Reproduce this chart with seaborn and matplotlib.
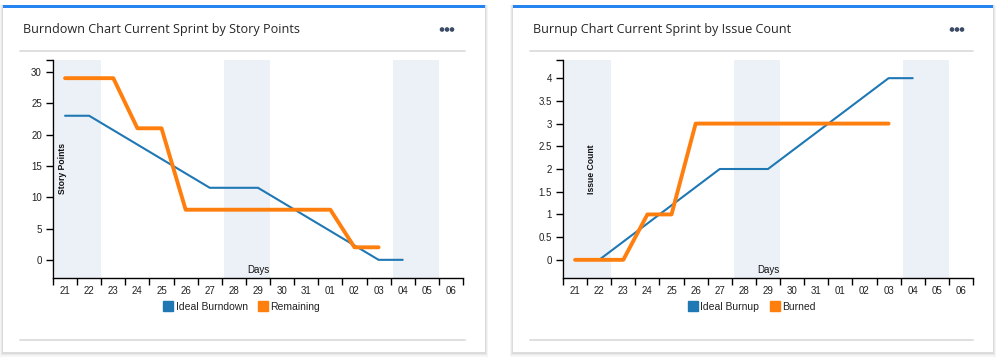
import matplotlib
matplotlib.use("Agg")
import matplotlib.pyplot as plt
import seaborn as sns
import pandas as pd
from matplotlib.patches import Rectangle
from matplotlib.lines import Line2D

sns.set_theme(style="white")
plt.rcParams['font.family'] = ['Liberation Sans', 'DejaVu Sans']

days = ["21", "22", "23", "24", "25", "26", "27", "28", "29", "30", "31",
        "01", "02", "03", "04", "05", "06"]
weekends = [("21", "22"), ("28", "29"), ("04", "05")]

# Burndown (story points)
ideal_burndown = [23, 23, 20.7, 18.4, 16.1, 13.8, 11.5, 11.5, 11.5, 9.2, 6.9,
                  4.6, 2.3, 0, 0]
remaining = [29, 29, 29, 21, 21, 8, 8, 8, 8, 8, 8, 8, 2, 2]

# Burnup (issue count)
ideal_burnup = [0, 0, 0.4, 0.8, 1.2, 1.6, 2.0, 2.0, 2.0, 2.4, 2.8, 3.2, 3.6,
                4.0, 4.0]
burned = [0, 0, 0, 1, 1, 3, 3, 3, 3, 3, 3, 3, 3, 3]

BLUE = "#1f77b4"
ORANGE = "#ff7f0e"
SHADE = "#ecf1f8"

W, H = 998, 357
fig = plt.figure(figsize=(W / 100, H / 100), dpi=100)
fig.patch.set_facecolor("white")

bg = fig.add_axes([0, 0, 1, 1], zorder=-5)
bg.set_xlim(0, W)
bg.set_ylim(H, 0)
bg.axis("off")


def card(x0, x1, title, dots_x):
    y0, y1 = 5, 352
    for i, a in enumerate([0.05, 0.05, 0.04]):
        bg.add_patch(Rectangle((x0 - 1 - i, y0 - 0.5), (x1 - x0) + 2 + 2 * i,
                               (y1 - y0) + 2 + 1.5 * i, facecolor="#000000",
                               alpha=a, edgecolor="none", zorder=0))
    bg.add_patch(Rectangle((x0, y0), x1 - x0, y1 - y0, facecolor="white",
                           edgecolor="none", zorder=1))
    bg.add_patch(Rectangle((x0, y0), x1 - x0, 2.6, facecolor="#2684f0",
                           edgecolor="none", zorder=2))
    bg.plot([x0 + 17, x1 - 20], [51, 51], color="#dcdcdc", lw=1.3, zorder=2)
    bg.plot([x0 + 17, x1 - 20], [340, 340], color="#dcdcdc", lw=1.3, zorder=2)
    bg.text(x0 + 20, 30, title, fontsize=9.1, color="#262626",
            family=["Open Sans", "DejaVu Sans"], va="center", ha="left", zorder=3)
    for k in range(3):
        bg.add_patch(plt.Circle((dots_x - 5 + 5 * k, 29.5), 1.6,
                                color="#3b4a66", zorder=3))


card(3, 485, "Burndown Chart Current Sprint by Story Points", 447)
card(513, 993, "Burnup Chart Current Sprint by Issue Count", 957)


def panel(left_px, series, labels, ylim, yticks, ylabel, ylabel_x, fmt):
    ax = fig.add_axes([left_px / W, (H - 278) / H, 410 / W, 218 / H])
    ax.set_facecolor("none")
    ax.set_xlim(-0.5, len(days) - 0.5)
    ax.set_ylim(*ylim)
    for a, b in weekends:
        ax.axvspan(days.index(a) - 0.5 + 0.08, days.index(b) + 0.5,
                   color=SHADE, lw=0, zorder=0)
    for vals, lab, col, lw in zip(series, labels, [BLUE, ORANGE], [1.5, 2.8]):
        df = pd.DataFrame({"pos": list(range(len(vals))), "val": vals})
        sns.lineplot(data=df, x="pos", y="val", color=col, linewidth=lw,
                     ax=ax, zorder=3 if col == ORANGE else 2, label=lab,
                     legend=False)
    for s in ["top", "right"]:
        ax.spines[s].set_visible(False)
    for s in ["left", "bottom"]:
        ax.spines[s].set_color("#000000")
        ax.spines[s].set_linewidth(1.0)
    ax.set_xticks(range(len(days)))
    ax.set_xticklabels(days)
    ax.set_xticks([i - 0.5 for i in range(len(days) + 1)], minor=True)
    ax.tick_params(axis="x", which="major", length=0, pad=6, labelsize=7,
                   labelcolor="#222222", bottom=True)
    ax.tick_params(axis="x", which="minor", length=5, width=1, color="black",
                   direction="out", bottom=True)
    ax.set_yticks(yticks)
    ax.set_yticklabels([fmt(v) for v in yticks])
    ax.set_yticks([ylim[1]], minor=True)
    ax.tick_params(axis="y", which="both", length=5, width=1, color="black",
                   direction="out", labelsize=7, labelcolor="#222222", pad=3,
                   left=True)
    ax.set_xlabel("")
    ax.set_ylabel("")
    ax.text(0.5, 0.012, "Days", transform=ax.transAxes, ha="center",
            va="bottom", fontsize=7, color="#111111")
    ax.text(ylabel_x, 0.5, ylabel, transform=ax.transAxes, ha="center",
            va="center", rotation=90, fontsize=6.2, color="#111111",
            fontweight="bold")
    handles = [Line2D([], [], marker="s", linestyle="none", markersize=7.5,
                      color=c) for c in [BLUE, ORANGE]]
    ax.legend(handles, labels, loc="upper center",
              bbox_to_anchor=(0.46, -0.065), ncol=2, frameon=False,
              fontsize=7.5, handletextpad=0.2, columnspacing=1.0,
              handlelength=1.0, labelcolor="#222222")
    return ax


panel(53, [ideal_burndown, remaining], ["Ideal Burndown", "Remaining"],
      (-2.9, 31.9), [0, 5, 10, 15, 20, 25, 30], "Story Points", 0.022,
      lambda v: f"{v:g}")
panel(563, [ideal_burnup, burned], ["Ideal Burnup", "Burned"],
      (-0.4, 4.4), [0, 0.5, 1, 1.5, 2, 2.5, 3, 3.5, 4], "Issue Count", 0.07,
      lambda v: f"{v:g}")

fig.savefig("out.png", dpi=100)
